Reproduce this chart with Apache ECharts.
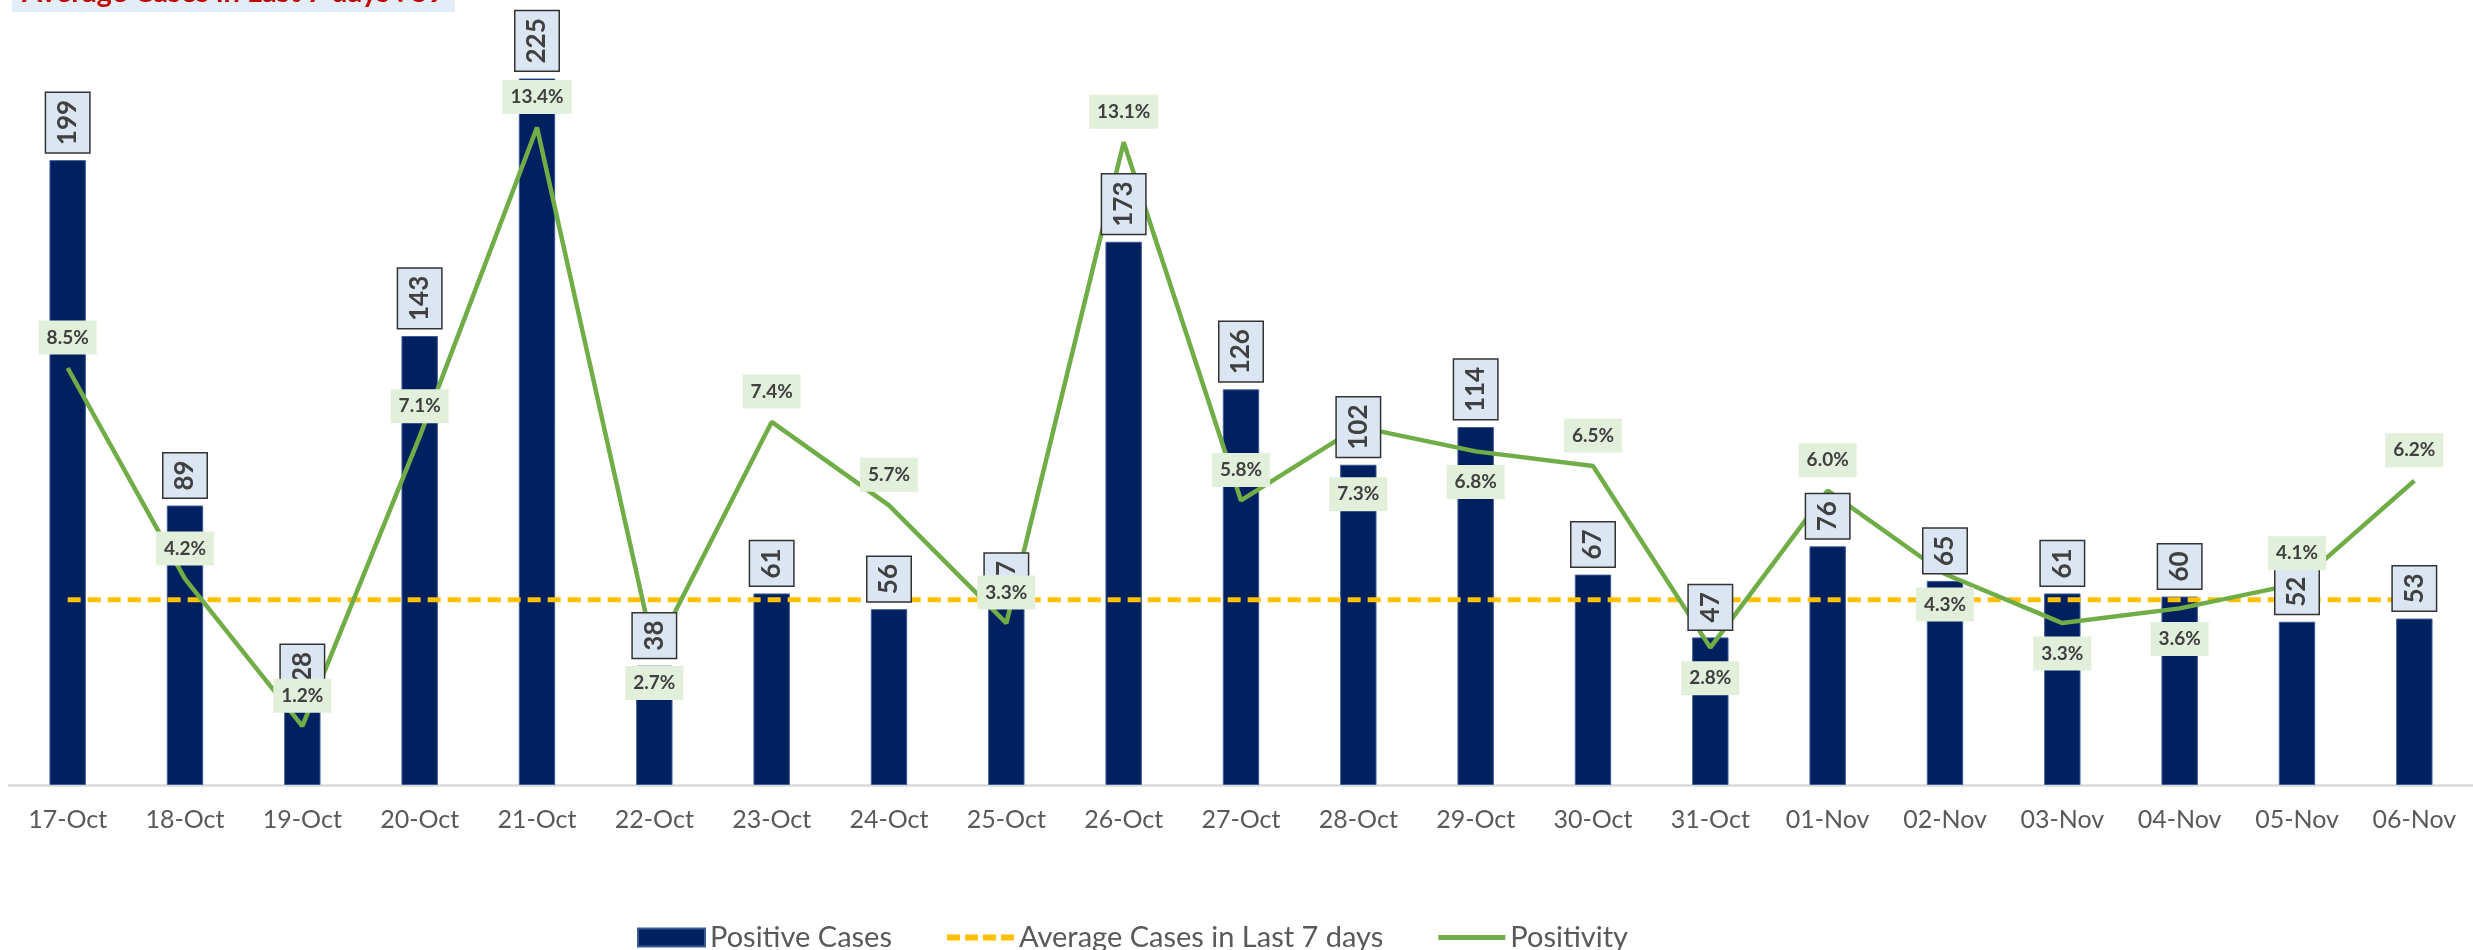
<!DOCTYPE html>
<html>
<head>
<meta charset="utf-8">
<script src="https://cdn.jsdelivr.net/npm/echarts@6/dist/echarts.min.js"></script>
<style>
  html, body { margin: 0; padding: 0; background: #fff; }
  #chart { width: 2473px; height: 950px; }
</style>
</head>
<body>
<div id="chart"></div>
<script>
// values
var days = ['17-Oct', '18-Oct', '19-Oct', '20-Oct', '21-Oct', '22-Oct', '23-Oct', '24-Oct', '25-Oct', '26-Oct', '27-Oct',
  '28-Oct', '29-Oct', '30-Oct', '31-Oct', '01-Nov', '02-Nov', '03-Nov', '04-Nov', '05-Nov', '06-Nov'];
var positiveCases = [199, 89, 28, 143, 225, 38, 61, 56, 57, 173, 126, 102, 114, 67, 47, 76, 65, 61, 60, 52, 53];
var avgLast7Days = [59, 59, 59, 59, 59, 59, 59, 59, 59, 59, 59, 59, 59, 59, 59, 59, 59, 59, 59, 59, 59];
var positivity = [8.5, 4.2, 1.2, 7.1, 13.4, 2.7, 7.4, 5.7, 3.3, 13.1, 5.8, 7.3, 6.8, 6.5, 2.8, 6.0, 4.3, 3.3, 3.6, 4.1, 6.2];
var headline = 'Average Cases in Last 7 days : 59';

// which side of the point each positivity label sits on (and how far)
var pctSide = ['top', 'top', 'top', 'top', 'top', 'bottom', 'top', 'top', 'top', 'top', 'top',
  'bottom', 'bottom', 'top', 'bottom', 'top', 'bottom', 'bottom', 'bottom', 'top', 'top'];
var pctDist = [13, 13, 13, 13, 13, 13, 13, 13, 13, 13, 13, 50, 13, 13, 13, 13, 13, 13, 13, 13, 13];

var font = 'Lato, "Open Sans", sans-serif';
var chart = echarts.init(document.getElementById('chart'));

// legend markers for the two lines (dashed / solid), sized 67x18
var dashIcon = 'path://M0,0M67,18M0,6h13v6h-13zM18,6h13v6h-13zM36,6h13v6h-13zM54,6h13v6h-13z';
var lineIcon = 'path://M0,0M67,18M0,6.5h67v5h-67z';

var option = {
  animation: false,
  backgroundColor: '#fff',
  title: {
    text: headline,
    left: 12,
    top: -27,
    padding: [2, 10],
    backgroundColor: '#e3edf7',
    textStyle: { color: '#c00000', fontSize: 29, fontWeight: 'bold', fontFamily: font, lineHeight: 35 }
  },
  legend: {
    data: [
      { name: 'Positive Cases', icon: 'rect' },
      { name: 'Average Cases in Last 7 days', icon: dashIcon },
      { name: 'Positivity', icon: lineIcon }
    ],
    left: 632,
    top: 918,
    itemGap: 55,
    itemWidth: 67,
    itemHeight: 18,
    textStyle: { color: '#595959', fontSize: 29, fontFamily: font }
  },
  grid: { left: 9, right: -16, top: -5, bottom: 165 },
  xAxis: {
    type: 'category',
    data: days,
    axisTick: { show: false },
    axisLine: { lineStyle: { color: '#d9d9d9', width: 2.5 } },
    axisLabel: { color: '#595959', fontSize: 25, fontFamily: font, margin: 22, interval: 0 }
  },
  yAxis: [
    { type: 'value', min: 0, max: 250, show: false, splitLine: { show: false } },
    { type: 'value', min: 0, max: 16, show: false, splitLine: { show: false } }
  ],
  series: [
    {
      name: 'Positive Cases',
      type: 'bar',
      data: positiveCases,
      barWidth: '31%',
      itemStyle: { color: '#002060', borderColor: '#3b5a94', borderWidth: 1 },
      z: 2
    },
    {
      name: 'Average Cases in Last 7 days',
      type: 'line',
      data: avgLast7Days,
      symbol: 'none',
      lineStyle: { color: '#ffc000', width: 5, type: [13, 7] },
      itemStyle: { color: '#ffc000' },
      z: 3
    },
    {
      name: 'Positivity',
      type: 'line',
      yAxisIndex: 1,
      data: positivity,
      symbol: 'none',
      lineStyle: { color: '#70ad47', width: 4.5 },
      itemStyle: { color: '#70ad47' },
      z: 3
    },
    {
      // value boxes on the bars, drawn above the lines
      name: 'cases-labels',
      type: 'bar',
      data: positiveCases,
      barWidth: '31%',
      barGap: '-100%',
      silent: true,
      itemStyle: { color: 'transparent' },
      label: {
        show: true,
        position: 'top',
        distance: 8,
        rotate: 90,
        align: 'left',
        verticalAlign: 'middle',
        color: '#404040',
        fontSize: 26,
        fontWeight: 'bold',
        fontFamily: font,
        lineHeight: 31,
        backgroundColor: '#dce6f2',
        borderColor: '#333',
        borderWidth: 1.5,
        padding: [6, 7]
      },
      z: 4
    },
    {
      name: 'positivity-labels',
      type: 'line',
      yAxisIndex: 1,
      data: positivity.map(function (v, i) {
        return { value: v, label: { position: pctSide[i], distance: pctDist[i] } };
      }),
      symbol: 'circle',
      symbolSize: 1,
      silent: true,
      itemStyle: { color: 'transparent' },
      lineStyle: { opacity: 0 },
      label: {
        show: true,
        distance: 13,
        color: '#404040',
        fontSize: 19,
        fontWeight: 'bold',
        fontFamily: font,
        lineHeight: 24,
        backgroundColor: '#e2efda',
        padding: [5, 8],
        formatter: function (p) { return p.value.toFixed(1) + '%'; }
      },
      z: 5
    }
  ]
};

chart.setOption(option);
</script>
</body>
</html>
